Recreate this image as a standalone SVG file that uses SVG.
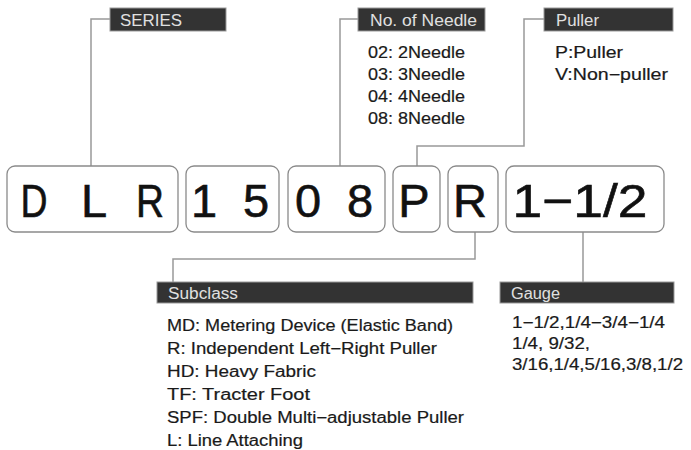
<svg xmlns="http://www.w3.org/2000/svg" width="691" height="450" viewBox="0 0 691 450">
<style>
.box{fill:#fff;stroke:#8a8a8a;stroke-width:1.3}
.hdr{fill:#333;stroke:#999;stroke-width:1}
.ht{font-family:"Liberation Sans",Arial,sans-serif;font-size:16px;fill:#e0e0e0}
.big{font-family:"Liberation Sans",Arial,sans-serif;font-size:47px;fill:#111;stroke:#111;stroke-width:0.6;text-anchor:middle}
.t{font-family:"Liberation Sans",Arial,sans-serif;font-size:16px;fill:#1a1a1a;stroke:#1a1a1a;stroke-width:0.2}
.c{fill:none;stroke:#999;stroke-width:1.5}
</style>
<rect width="691" height="450" fill="#fff"/>
<g id="connectors">
<polyline class="c" points="110,19 91,19 91,166"/>
<polyline class="c" points="358,19 340,19 340,166"/>
<polyline class="c" points="544,19 524,19 524,146 417,146 417,166"/>
<polyline class="c" points="475,232 475,259 173,259 173,282"/>
<polyline class="c" points="583,232 583,282"/>
</g>
<g id="series">
<rect class="hdr" x="110" y="8" width="116" height="23"/>
<text class="ht" x="120" y="26" textLength="62" lengthAdjust="spacingAndGlyphs">SERIES</text>
</g>
<g id="needle">
<rect class="hdr" x="358" y="8" width="127" height="23"/>
<text class="ht" x="370" y="26" textLength="107" lengthAdjust="spacingAndGlyphs">No. of Needle</text>
<text class="t" x="368" y="58" textLength="97" lengthAdjust="spacingAndGlyphs">02: 2Needle</text>
<text class="t" x="368" y="80" textLength="97" lengthAdjust="spacingAndGlyphs">03: 3Needle</text>
<text class="t" x="368" y="102" textLength="97" lengthAdjust="spacingAndGlyphs">04: 4Needle</text>
<text class="t" x="368" y="124" textLength="97" lengthAdjust="spacingAndGlyphs">08: 8Needle</text>
</g>
<g id="puller">
<rect class="hdr" x="544" y="8" width="129" height="23"/>
<text class="ht" x="556" y="26" textLength="43" lengthAdjust="spacingAndGlyphs">Puller</text>
<text class="t" x="555" y="58" textLength="68" lengthAdjust="spacingAndGlyphs">P:Puller</text>
<text class="t" x="555" y="80" textLength="113" lengthAdjust="spacingAndGlyphs">V:Non−puller</text>
</g>
<g id="code-dlr">
<rect class="box" x="7" y="166" width="171" height="66" rx="8"/>
<text class="big" x="34" y="217" textLength="27" lengthAdjust="spacingAndGlyphs">D</text>
<text class="big" x="94" y="217">L</text>
<text class="big" x="150" y="217" textLength="28" lengthAdjust="spacingAndGlyphs">R</text>
</g>
<g id="code-15">
<rect class="box" x="186" y="166" width="93" height="66" rx="8"/>
<text class="big" x="204" y="217">1</text>
<text class="big" x="256" y="217">5</text>
</g>
<g id="code-08">
<rect class="box" x="288" y="166" width="97" height="66" rx="8"/>
<text class="big" x="308" y="217">0</text>
<text class="big" x="360" y="217">8</text>
</g>
<g id="code-p">
<rect class="box" x="393" y="166" width="47" height="66" rx="8"/>
<text class="big" x="414" y="217">P</text>
</g>
<g id="code-r">
<rect class="box" x="448" y="166" width="50" height="66" rx="8"/>
<text class="big" x="470" y="217">R</text>
</g>
<g id="code-gauge">
<rect class="box" x="506" y="166" width="158" height="66" rx="8"/>
<text class="big" x="580" y="217" textLength="135" lengthAdjust="spacingAndGlyphs">1−1/2</text>
</g>
<g id="subclass">
<rect class="hdr" x="157" y="282" width="316" height="21"/>
<text class="ht" x="168" y="299" textLength="70" lengthAdjust="spacingAndGlyphs">Subclass</text>
<text class="t" x="167" y="331" textLength="286" lengthAdjust="spacingAndGlyphs">MD: Metering Device (Elastic Band)</text>
<text class="t" x="167" y="354" textLength="270" lengthAdjust="spacingAndGlyphs">R: Independent Left−Right Puller</text>
<text class="t" x="167" y="377" textLength="149" lengthAdjust="spacingAndGlyphs">HD: Heavy Fabric</text>
<text class="t" x="167" y="400" textLength="143" lengthAdjust="spacingAndGlyphs">TF: Tracter Foot</text>
<text class="t" x="167" y="423" textLength="297" lengthAdjust="spacingAndGlyphs">SPF: Double Multi−adjustable Puller</text>
<text class="t" x="167" y="446" textLength="136" lengthAdjust="spacingAndGlyphs">L: Line Attaching</text>
</g>
<g id="gauge">
<rect class="hdr" x="500" y="282" width="174" height="21"/>
<text class="ht" x="511" y="299" textLength="49" lengthAdjust="spacingAndGlyphs">Gauge</text>
<text class="t" x="512" y="328" textLength="153" lengthAdjust="spacingAndGlyphs">1−1/2,1/4−3/4−1/4</text>
<text class="t" x="512" y="349" textLength="78" lengthAdjust="spacingAndGlyphs">1/4, 9/32,</text>
<text class="t" x="512" y="370" textLength="171" lengthAdjust="spacingAndGlyphs">3/16,1/4,5/16,3/8,1/2</text>
</g>
</svg>
